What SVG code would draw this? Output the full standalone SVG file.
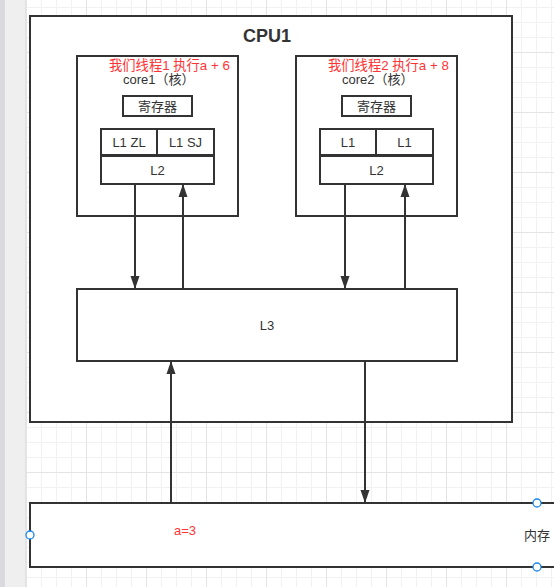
<svg xmlns="http://www.w3.org/2000/svg" width="554" height="587" viewBox="0 0 554 587">
<style>
.box{fill:#fff;stroke:#333;stroke-width:2}
.t{font-family:"Liberation Sans","Noto Sans CJK SC",sans-serif;font-size:13px;fill:#333}
.c{text-anchor:middle}
.red{fill:#ff3333}
.ln{stroke:#333;stroke-width:2;fill:none}
.hd{fill:#fff;stroke:#1a86f0;stroke-width:1.3}
</style>
<defs>
<pattern id="grid" patternUnits="userSpaceOnUse" x="26" y="-8" width="60" height="60">
<rect width="60" height="60" fill="#fff"/>
<rect x="15" width="1" height="60" fill="#f1f1f1"/>
<rect x="30" width="1" height="60" fill="#f1f1f1"/>
<rect x="45" width="1" height="60" fill="#f1f1f1"/>
<rect y="15" width="60" height="1" fill="#f1f1f1"/>
<rect y="30" width="60" height="1" fill="#f1f1f1"/>
<rect y="45" width="60" height="1" fill="#f1f1f1"/>
<rect width="1" height="60" fill="#e4e4e4"/>
<rect width="60" height="1" fill="#e4e4e4"/>
</pattern>
<marker id="ah" markerWidth="14" markerHeight="10" refX="13" refY="5" orient="auto" markerUnits="userSpaceOnUse">
<path d="M0,0.5 L13,5 L0,9.5 Z" fill="#333"/>
</marker>
</defs>
<g id="background">
<rect x="0" y="0" width="554" height="587" fill="url(#grid)"/>
<rect x="0" y="0" width="25" height="587" fill="#efefef"/>
<rect x="0" y="0" width="5" height="587" fill="#dadade"/>
<rect x="25" y="0" width="1" height="587" fill="#e2e2e2"/>
</g>
<g id="cpu1">
<rect class="box" x="30" y="16" width="482" height="406"/>
<text x="243" y="42" style="font-family:'Liberation Sans',sans-serif;font-size:18px;font-weight:bold;fill:#333">CPU1</text>
</g>
<g id="core1">
<rect class="box" x="77" y="56" width="161" height="160"/>
<text class="t red" x="109" y="70" style="font-size:13.3px">我们线程1 执行a + 6</text>
<text class="t" x="123" y="84">core1（核）</text>
</g>
<g id="core1-reg">
<rect class="box" x="123" y="96" width="69" height="20"/>
<text class="t c" x="157.5" y="111">寄存器</text>
</g>
<g id="core1-l1zl">
<rect class="box" x="101" y="129" width="56" height="26"/>
<text class="t c" x="129" y="147">L1 ZL</text>
</g>
<g id="core1-l1sj">
<rect class="box" x="157" y="129" width="57" height="26"/>
<text class="t c" x="185.5" y="147">L1 SJ</text>
</g>
<g id="core1-l2">
<rect class="box" x="101" y="156" width="113" height="28"/>
<text class="t c" x="157.5" y="175">L2</text>
</g>
<g id="core2">
<rect class="box" x="296" y="56" width="161" height="160"/>
<text class="t red" x="328" y="70" style="font-size:13.3px">我们线程2 执行a + 8</text>
<text class="t" x="342" y="84">core2（核）</text>
</g>
<g id="core2-reg">
<rect class="box" x="342" y="96" width="69" height="20"/>
<text class="t c" x="376.5" y="111">寄存器</text>
</g>
<g id="core2-l1a">
<rect class="box" x="320" y="129" width="56" height="26"/>
<text class="t c" x="348" y="147">L1</text>
</g>
<g id="core2-l1b">
<rect class="box" x="376" y="129" width="57" height="26"/>
<text class="t c" x="404.5" y="147">L1</text>
</g>
<g id="core2-l2">
<rect class="box" x="320" y="156" width="113" height="28"/>
<text class="t c" x="376.5" y="175">L2</text>
</g>
<g id="l3">
<rect class="box" x="77" y="289" width="380" height="72"/>
<text class="t c" x="267" y="330">L3</text>
</g>
<g id="memory">
<rect class="box" x="30" y="503" width="560" height="64"/>
<text class="t red" x="174" y="535">a=3</text>
<text class="t" x="524" y="540">内存</text>
<circle class="hd" cx="30" cy="535" r="4"/>
<circle class="hd" cx="537" cy="503" r="4"/>
<circle class="hd" cx="537" cy="567" r="4"/>
</g>
<g id="connectors">
<line class="ln" x1="135" y1="184" x2="135" y2="289" marker-end="url(#ah)"/>
<line class="ln" x1="183" y1="289" x2="183" y2="184" marker-end="url(#ah)"/>
<line class="ln" x1="345" y1="184" x2="345" y2="289" marker-end="url(#ah)"/>
<line class="ln" x1="405" y1="289" x2="405" y2="184" marker-end="url(#ah)"/>
<line class="ln" x1="171" y1="503" x2="171" y2="361" marker-end="url(#ah)"/>
<line class="ln" x1="365" y1="361" x2="365" y2="503" marker-end="url(#ah)"/>
</g>
</svg>
